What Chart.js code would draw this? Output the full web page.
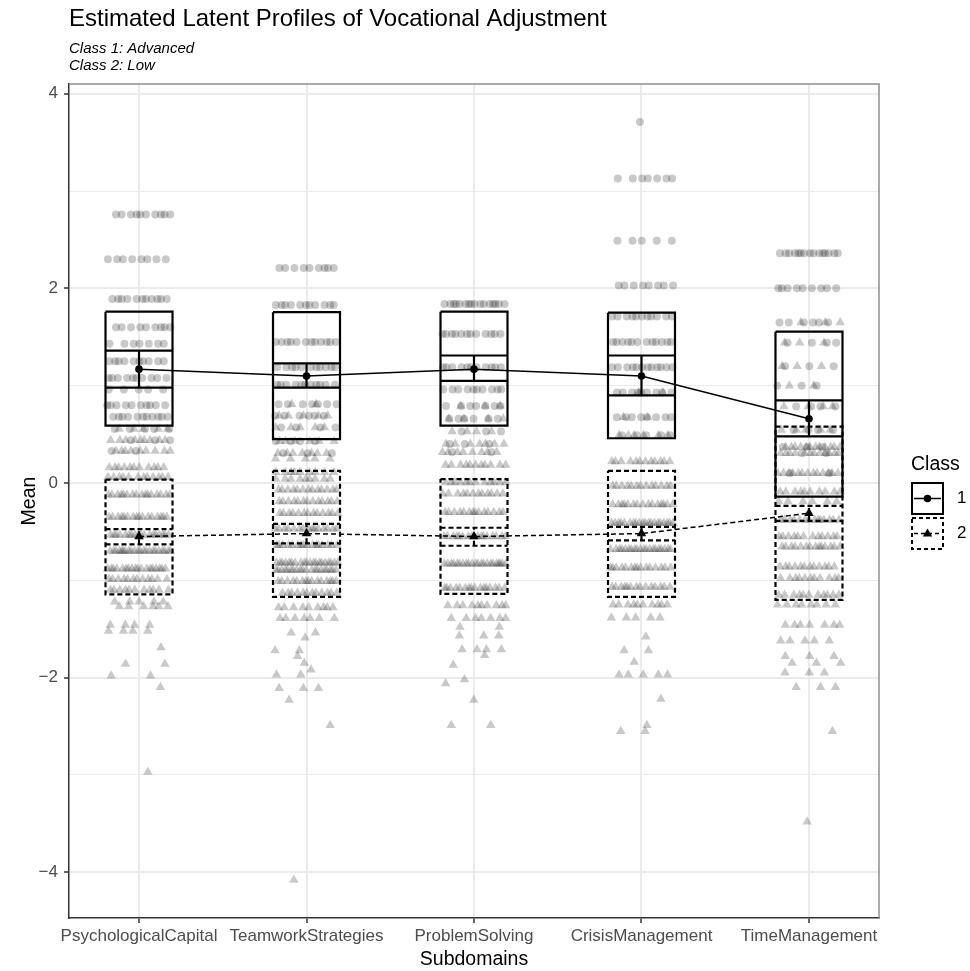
<!DOCTYPE html>
<html><head><meta charset="utf-8">
<script src="https://cdn.jsdelivr.net/npm/chart.js@4/dist/chart.umd.min.js"></script>
<style>html,body{margin:0;padding:0;background:#fff;} #wrap{width:970px;height:971px;position:relative;}</style>
</head><body><div id="wrap"><canvas id="c" width="970" height="971"></canvas></div>
<script>
// ---------- data ----------
const categories = ['PsychologicalCapital','TeamworkStrategies','ProblemSolving','CrisisManagement','TimeManagement'];
const yTickValues = [-4,-3,-2,-1,0,1,2,3,4];

const class1Mean    = [1.17, 1.10, 1.17, 1.10, 0.66];
const class1BoxLow  = [0.59, 0.45, 0.59, 0.46, -0.14];
const class1BoxHigh = [1.76, 1.755, 1.76, 1.75, 1.555];
const class1CiLow   = [0.98, 0.98, 1.05, 0.90, 0.48];
const class1CiHigh  = [1.36, 1.23, 1.31, 1.31, 0.85];

const class2Mean    = [-0.55, -0.52, -0.55, -0.52, -0.31];
const class2BoxLow  = [-1.145, -1.17, -1.14, -1.17, -1.20];
const class2BoxHigh = [0.035, 0.125, 0.04, 0.125, 0.58];
const class2CiLow   = [-0.63, -0.62, -0.645, -0.59, -0.39];
const class2CiHigh  = [-0.475, -0.42, -0.46, -0.45, -0.235];

// raw observations: [value, number of respondents at that value]
const pcClass1 = [[2.76,10],[2.30,8],[1.89,11],[1.60,9],[1.43,7],[1.25,10],[1.08,10],[0.96,5],[0.80,10],[0.68,11],[0.555,5],[0.44,3],[0.33,2]];
const pcClass2 = [[0.555,5],[0.44,9],[0.33,9],[0.16,11],[0.06,12],[-0.12,16],[-0.35,16],[-0.535,18],[-0.70,22],[-0.88,18],[-0.99,12],[-1.10,11],[-1.22,5],[-1.27,6],[-1.46,4],[-1.52,4],[-1.69,1],[-1.86,2],[-1.98,2],[-2.10,1],[-2.97,1]];
const tsClass1 = [[2.21,9],[1.83,11],[1.45,12],[1.19,11],[1.01,11],[0.81,7],[0.69,6],[0.57,4],[0.43,4],[0.305,3]];
const tsClass2 = [[0.81,2],[0.69,5],[0.57,5],[0.43,6],[0.305,7],[0.25,5],[0.11,9],[0.04,9],[-0.07,13],[-0.19,13],[-0.31,13],[-0.47,15],[-0.64,16],[-0.82,20],[-0.895,20],[-1.01,15],[-1.13,12],[-1.28,9],[-1.39,7],[-1.54,2],[-1.59,1],[-1.72,2],[-1.78,1],[-1.85,1],[-1.92,1],[-1.97,2],[-2.11,3],[-2.23,1],[-2.49,1],[-4.08,1]];
const psClass1 = [[1.84,16],[1.53,12],[1.19,11],[0.96,10],[0.79,7],[0.66,6],[0.53,3],[0.40,3],[0.315,2]];
const psClass2 = [[0.79,3],[0.66,4],[0.53,4],[0.40,7],[0.315,8],[0.185,11],[0.005,12],[-0.11,12],[-0.30,14],[-0.55,16],[-0.83,22],[-1.08,16],[-1.26,10],[-1.39,7],[-1.48,2],[-1.57,3],[-1.71,4],[-1.77,1],[-1.87,1],[-2.02,1],[-2.06,1],[-2.23,1],[-2.49,2]];
const cmClass1 = [[3.71,1],[3.13,7],[2.49,5],[2.03,8],[1.71,11],[1.45,12],[1.19,12],[0.93,9],[0.675,8],[0.49,5]];
const cmClass2 = [[0.93,2],[0.675,2],[0.49,6],[0.22,12],[-0.03,13],[-0.22,15],[-0.41,20],[-0.68,20],[-0.87,15],[-1.07,14],[-1.25,10],[-1.385,5],[-1.58,1],[-1.72,2],[-1.84,1],[-1.97,5],[-2.22,1],[-2.49,1],[-2.55,2]];
const tmClass1 = [[2.36,15],[2.0,9],[1.65,6],[1.44,4],[1.20,3],[1.0,3],[0.785,4],[0.545,4],[0.37,3],[0.305,2],[0.10,2]];
const tmClass2 = [[1.65,3],[1.44,3],[1.20,3],[1.0,2],[0.785,4],[0.545,5],[0.37,12],[0.305,12],[0.10,13],[-0.09,10],[-0.19,6],[-0.38,14],[-0.55,12],[-0.655,14],[-0.86,12],[-0.98,11],[-1.15,11],[-1.25,8],[-1.46,7],[-1.62,5],[-1.78,3],[-1.85,3],[-1.95,3],[-2.10,3],[-2.55,1],[-3.48,1]];

// ---------- presentation ----------
const FONT = "'Liberation Sans', Arial, Helvetica, sans-serif";
const JITTER = 0.19;      // horizontal jitter half-width (category units)
const HALF_W = 0.2;       // half-width of boxes / error-bar caps

const rawClass1 = [pcClass1, tsClass1, psClass1, cmClass1, tmClass1];
const rawClass2 = [pcClass2, tsClass2, psClass2, cmClass2, tmClass2];

function jitterPoints(rowsByCat, cls) {
  const out = [];
  rowsByCat.forEach((rows, ci) => {
    rows.forEach(([v, n], ri) => {
      let seed = (Math.abs(v) * 13.37 + ci * 0.291 + cls * 0.53 + ri * 0.17) % 1;
      for (let k = 0; k < n; k++) {
        const f = (seed + k * 0.6180339887) % 1;
        out.push({x: ci + 1 + (f * 2 - 1) * JITTER, y: v});
      }
    });
  });
  return out;
}

function boxes(low, high) {
  const out = [];
  low.forEach((lo, i) => {
    const c = i + 1, hi = high[i];
    out.push({x: c - HALF_W, y: hi}, {x: c + HALF_W, y: hi}, {x: c + HALF_W, y: lo},
             {x: c - HALF_W, y: lo}, {x: c - HALF_W, y: hi}, {x: c, y: null});
  });
  return out;
}
function errorBars(low, high) {
  const out = [];
  low.forEach((lo, i) => {
    const c = i + 1, hi = high[i];
    out.push({x: c - HALF_W, y: hi}, {x: c + HALF_W, y: hi}, {x: c, y: null},
             {x: c - HALF_W, y: lo}, {x: c + HALF_W, y: lo}, {x: c, y: null},
             {x: c, y: lo}, {x: c, y: hi}, {x: c, y: null});
  });
  return out;
}
const meanPts = arr => arr.map((v, i) => ({x: i + 1, y: v}));

const lineBase = {showLine: true, pointRadius: 0, borderColor: '#000', fill: false, tension: 0,
                  spanGaps: false, borderCapStyle: 'butt', borderJoinStyle: 'miter'};
const DASH = [5, 3];

const datasets = [
  Object.assign({}, lineBase, {data: meanPts(class1Mean), borderWidth: 1.5, order: 0,
    pointRadius: 3.8, pointStyle: 'circle', pointBackgroundColor: '#000', pointBorderWidth: 0}),
  Object.assign({}, lineBase, {data: meanPts(class2Mean), borderWidth: 1.5, borderDash: DASH, order: 0,
    pointRadius: 5.5, pointStyle: 'triangle', pointBackgroundColor: '#000', pointBorderWidth: 0}),
  Object.assign({}, lineBase, {data: errorBars(class1CiLow, class1CiHigh), borderWidth: 2.2, order: 1}),
  Object.assign({}, lineBase, {data: errorBars(class2CiLow, class2CiHigh), borderWidth: 2.2, borderDash: DASH, order: 1}),
  Object.assign({}, lineBase, {data: boxes(class1BoxLow, class1BoxHigh), borderWidth: 2.2, order: 2}),
  Object.assign({}, lineBase, {data: boxes(class2BoxLow, class2BoxHigh), borderWidth: 2.2, borderDash: DASH, order: 2}),
  {data: jitterPoints(rawClass1, 0), showLine: false, pointStyle: 'circle', pointRadius: 4,
   pointBackgroundColor: 'rgba(0,0,0,0.21)', pointBorderWidth: 0, order: 5},
  {data: jitterPoints(rawClass2, 1), showLine: false, pointStyle: 'triangle', pointRadius: 5.5,
   pointBackgroundColor: 'rgba(0,0,0,0.21)', pointBorderWidth: 0, order: 5}
];

const decor = {
  id: 'decor',
  afterDraw(chart) {
    const ctx = chart.ctx, a = chart.chartArea;
    ctx.save();
    // top & right panel border
    ctx.strokeStyle = '#8f8f8f'; ctx.lineWidth = 1.5;
    ctx.beginPath(); ctx.moveTo(a.left, a.top); ctx.lineTo(a.right, a.top); ctx.lineTo(a.right, a.bottom); ctx.stroke();
    // titles
    ctx.fillStyle = '#000'; ctx.textBaseline = 'alphabetic'; ctx.textAlign = 'left';
    ctx.font = '24px ' + FONT;
    ctx.fillText('Estimated Latent Profiles of Vocational Adjustment', a.left, 26);
    ctx.font = 'italic 15px ' + FONT;
    ctx.fillText('Class 1: Advanced', a.left, 53);
    ctx.fillText('Class 2: Low', a.left, 70);
    // axis titles
    ctx.font = '19.5px ' + FONT; ctx.textAlign = 'center';
    ctx.fillText('Subdomains', (a.left + a.right) / 2, 965);
    ctx.save(); ctx.translate(35, (a.top + a.bottom) / 2); ctx.rotate(-Math.PI / 2);
    ctx.fillText('Mean', 0, 0); ctx.restore();
    // legend
    ctx.textAlign = 'left';
    ctx.fillText('Class', 911, 470);
    const kx = 912, kw = 31;
    const keys = [{y: 483, dash: [], label: '1', tri: false}, {y: 518, dash: [4, 3], label: '2', tri: true}];
    keys.forEach(k => {
      ctx.setLineDash(k.dash); ctx.strokeStyle = '#000'; ctx.lineWidth = 2;
      ctx.strokeRect(kx, k.y, kw, kw);
      ctx.lineWidth = 1.5;
      ctx.beginPath(); ctx.moveTo(kx + 2, k.y + kw / 2); ctx.lineTo(kx + kw - 2, k.y + kw / 2); ctx.stroke();
      ctx.setLineDash([]);
      ctx.fillStyle = '#000';
      const cx = kx + kw / 2, cy = k.y + kw / 2;
      ctx.beginPath();
      if (k.tri) { ctx.moveTo(cx, cy - 5); ctx.lineTo(cx + 4.7, cy + 3); ctx.lineTo(cx - 4.7, cy + 3); ctx.closePath(); }
      else { ctx.arc(cx, cy, 3.8, 0, Math.PI * 2); }
      ctx.fill();
      ctx.font = '17px ' + FONT; ctx.textBaseline = 'middle';
      ctx.fillText(k.label, 957, cy);
      ctx.textBaseline = 'alphabetic';
    });
    ctx.restore();
  }
};

new Chart(document.getElementById('c'), {
  type: 'scatter',
  data: {datasets},
  options: {
    responsive: false, animation: false, devicePixelRatio: 1, events: [],
    layout: {padding: {left: 0, top: 84, right: 91, bottom: 0}},
    plugins: {legend: {display: false}, tooltip: {enabled: false}},
    scales: {
      x: {
        type: 'linear', min: 0.582, max: 5.418,
        afterBuildTicks: s => { s.ticks = categories.map((c, i) => ({value: i + 1})); },
        afterFit: s => { s.height = 53; },
        ticks: {callback: v => categories[Math.round(v) - 1], color: '#4d4d4d',
                font: {family: FONT, size: 17}, padding: 3, maxRotation: 0, minRotation: 0, autoSkip: false},
        grid: {color: '#ebebeb', lineWidth: 2, tickColor: '#333', tickLength: 5, tickWidth: 1.5},
        border: {display: true, color: '#333', width: 1.5}
      },
      y: {
        type: 'linear', min: -4.47, max: 4.10,
        afterBuildTicks: s => { s.ticks = yTickValues.map(v => ({value: v})); },
        afterFit: s => { s.width = 69; },
        ticks: {callback: v => (v % 2 !== 0 ? '' : (v < 0 ? '\u2212' + Math.abs(v) : String(v))),
                color: '#4d4d4d', font: {family: FONT, size: 17}, padding: 6, autoSkip: false},
        grid: {
          color: '#ebebeb',
          lineWidth: c => (c.tick && c.tick.value % 2 !== 0) ? 1 : 2,
          tickColor: c => (c.tick && c.tick.value % 2 !== 0) ? 'rgba(0,0,0,0)' : '#333',
          tickLength: 5, tickWidth: 1.5
        },
        border: {display: true, color: '#333', width: 1.5}
      }
    }
  },
  plugins: [decor]
});
</script>
</body></html>
